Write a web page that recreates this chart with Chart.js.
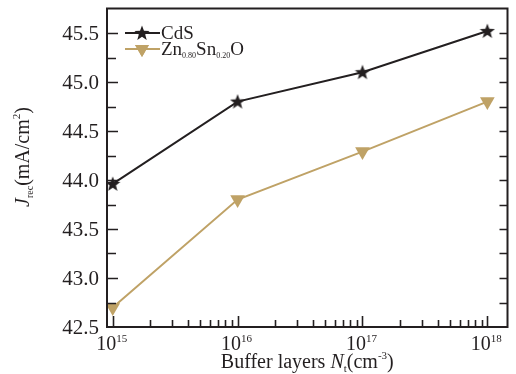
<!DOCTYPE html>
<html>
<head>
<meta charset="utf-8">
<script src="https://cdn.jsdelivr.net/npm/chart.js@4"></script>
<style>
  html, body { margin: 0; padding: 0; background: #fff; }
  canvas { display: block; }
</style>
</head>
<body>
<canvas id="jrec-chart" width="516" height="374"></canvas>
<script>
// Buffer layer defect density (cm^-3) and recombination current
const xValues = [1e15, 1e16, 1e17, 1e18];
const cdsValues = [43.96, 44.80, 45.10, 45.52];
const znsnoValues = [42.70, 43.80, 44.29, 44.80];

const yTickValues = [42.5, 43.0, 43.5, 44.0, 44.5, 45.0, 45.5];
const yTickLabels = ['42.5', '43.0', '43.5', '44.0', '44.5', '45.0', '45.5'];
const xTickExponents = [15, 16, 17, 18];

const INK = '#231f20';
const GOLD = '#bfa266';
const FONT = '"Liberation Serif", "DejaVu Serif", serif';

// filled five-point star used as a point style
function makeStar(size, color) {
  const c = document.createElement('canvas');
  c.width = size; c.height = size;
  const g = c.getContext('2d');
  const cx = size / 2, cy = size / 2 + 0.5;
  const ro = size / 2, ri = ro * 0.42;
  g.beginPath();
  for (let i = 0; i < 10; i++) {
    const r = i % 2 === 0 ? ro : ri;
    const a = -Math.PI / 2 + i * Math.PI / 5;
    const px = cx + r * Math.cos(a), py = cy + r * Math.sin(a);
    if (i === 0) g.moveTo(px, py); else g.lineTo(px, py);
  }
  g.closePath();
  g.fillStyle = color;
  g.fill();
  return c;
}
const starImg = makeStar(16, INK);

function toPoints(ys) {
  return xValues.map((x, i) => ({ x: x, y: ys[i] }));
}

// draws a run of text pieces (sub/superscripts, italics) starting at x
function richWidth(ctx, parts) {
  let w = 0;
  parts.forEach(p => {
    ctx.font = (p.italic ? 'italic ' : '') + p.size + 'px ' + FONT;
    w += ctx.measureText(p.t).width;
  });
  return w;
}
function drawRich(ctx, parts, x, y) {
  ctx.textBaseline = 'alphabetic';
  ctx.textAlign = 'left';
  parts.forEach(p => {
    ctx.font = (p.italic ? 'italic ' : '') + p.size + 'px ' + FONT;
    ctx.fillText(p.t, x, y + (p.dy || 0));
    x += ctx.measureText(p.t).width;
  });
}

const framePlugin = {
  id: 'frame',
  afterDraw(chart) {
    const ctx = chart.ctx;
    const a = chart.chartArea;
    const xs = chart.scales.x, ys = chart.scales.y;
    ctx.save();
    ctx.strokeStyle = INK;
    ctx.fillStyle = INK;

    // box
    ctx.lineWidth = 2;
    ctx.strokeRect(a.left, a.top, a.right - a.left, a.bottom - a.top);

    // y ticks, left and right, every 0.25
    ctx.lineWidth = 1.6;
    for (let v = 42.75; v <= 45.5001; v += 0.25) {
      const py = Math.round(ys.getPixelForValue(v)) + 0.5;
      const major = Math.abs(v * 2 - Math.round(v * 2)) < 1e-6;
      ctx.beginPath();
      ctx.moveTo(a.left, py); ctx.lineTo(a.left + (major ? 11 : 9), py);
      ctx.moveTo(a.right, py); ctx.lineTo(a.right - 8, py);
      ctx.stroke();
    }

    // x ticks, decades and minor log ticks
    xTickExponents.forEach(e => {
      for (let k = 1; k <= 9; k++) {
        const v = k * Math.pow(10, e);
        if (v > xs.max || (k > 1 && e === 18)) continue;
        const px = Math.round(xs.getPixelForValue(v)) + 0.5;
        ctx.beginPath();
        ctx.moveTo(px, a.bottom); ctx.lineTo(px, a.bottom - (k === 1 ? 11 : 7));
        ctx.stroke();
      }
    });

    // y tick labels
    ctx.font = '21px ' + FONT;
    ctx.textAlign = 'right';
    ctx.textBaseline = 'middle';
    yTickValues.forEach((v, i) => {
      ctx.fillText(yTickLabels[i], a.left - 8, ys.getPixelForValue(v) + 1);
    });

    // x tick labels 10^n
    xTickExponents.forEach(e => {
      const parts = [
        { t: '10', size: 20 },
        { t: String(e), size: 11, dy: -8 }
      ];
      const w = richWidth(ctx, parts);
      const px = xs.getPixelForValue(Math.pow(10, e));
      drawRich(ctx, parts, px - w / 2 - 1, a.bottom + 23);
    });

    // x axis title
    const xt = [
      { t: 'Buffer layers ', size: 20 },
      { t: 'N', size: 20, italic: true },
      { t: 't', size: 11, dy: 4 },
      { t: '(cm', size: 20 },
      { t: '-3', size: 11, dy: -9 },
      { t: ')', size: 20 }
    ];
    const xw = richWidth(ctx, xt);
    drawRich(ctx, xt, (a.left + a.right) / 2 - xw / 2, a.bottom + 41);

    // y axis title
    const yt = [
      { t: 'J', size: 20, italic: true },
      { t: 'rec', size: 10, dy: 4 },
      { t: '(mA/cm', size: 20 },
      { t: '2', size: 11, dy: -9 },
      { t: ')', size: 20 }
    ];
    const yw = richWidth(ctx, yt);
    ctx.save();
    ctx.translate(29, 157);
    ctx.rotate(-Math.PI / 2);
    drawRich(ctx, yt, -yw / 2, 0);
    ctx.restore();

    // legend
    const rows = [
      { color: INK, y: 33, star: true, text: [{ t: 'CdS', size: 19 }] },
      { color: GOLD, y: 49, star: false, text: [
        { t: 'Zn', size: 19 }, { t: '0.80', size: 8, dy: 3 },
        { t: 'Sn', size: 19 }, { t: '0.20', size: 8, dy: 3 },
        { t: 'O', size: 19 }
      ] }
    ];
    rows.forEach(r => {
      ctx.strokeStyle = r.color;
      ctx.lineWidth = 2;
      ctx.beginPath();
      ctx.moveTo(125, r.y); ctx.lineTo(160, r.y);
      ctx.stroke();
      if (r.star) {
        ctx.drawImage(starImg, 142 - starImg.width / 2, r.y - starImg.height / 2);
      } else {
        ctx.fillStyle = r.color;
        Chart.helpers.drawPoint(ctx, { pointStyle: 'triangle', rotation: 180, radius: 8, borderWidth: 0 }, 142, r.y);
        ctx.fill();
      }
      ctx.fillStyle = INK;
      drawRich(ctx, r.text, 161, r.y + 6);
    });

    ctx.restore();
  }
};

new Chart(document.getElementById('jrec-chart').getContext('2d'), {
  type: 'line',
  data: {
    datasets: [{
      label: 'CdS',
      data: toPoints(cdsValues),
      borderColor: INK,
      backgroundColor: INK,
      borderWidth: 2,
      pointStyle: starImg,
      pointRadius: 8,
      pointBorderWidth: 0,
      tension: 0
    }, {
      label: 'Zn0.80Sn0.20O',
      data: toPoints(znsnoValues),
      borderColor: GOLD,
      backgroundColor: GOLD,
      borderWidth: 2,
      pointStyle: 'triangle',
      rotation: 180,
      pointRadius: 8.5,
      pointBorderWidth: 0,
      tension: 0
    }]
  },
  options: {
    responsive: false,
    animation: false,
    devicePixelRatio: 1,
    layout: { padding: { left: 107, right: 1, top: 8, bottom: 47 } },
    plugins: {
      legend: { display: false },
      tooltip: { enabled: false }
    },
    scales: {
      x: { type: 'logarithmic', display: false, min: 9e14, max: 1.45e18 },
      y: { type: 'linear', display: false, min: 42.5, max: 45.75 }
    }
  },
  plugins: [framePlugin]
});
</script>
</body>
</html>
